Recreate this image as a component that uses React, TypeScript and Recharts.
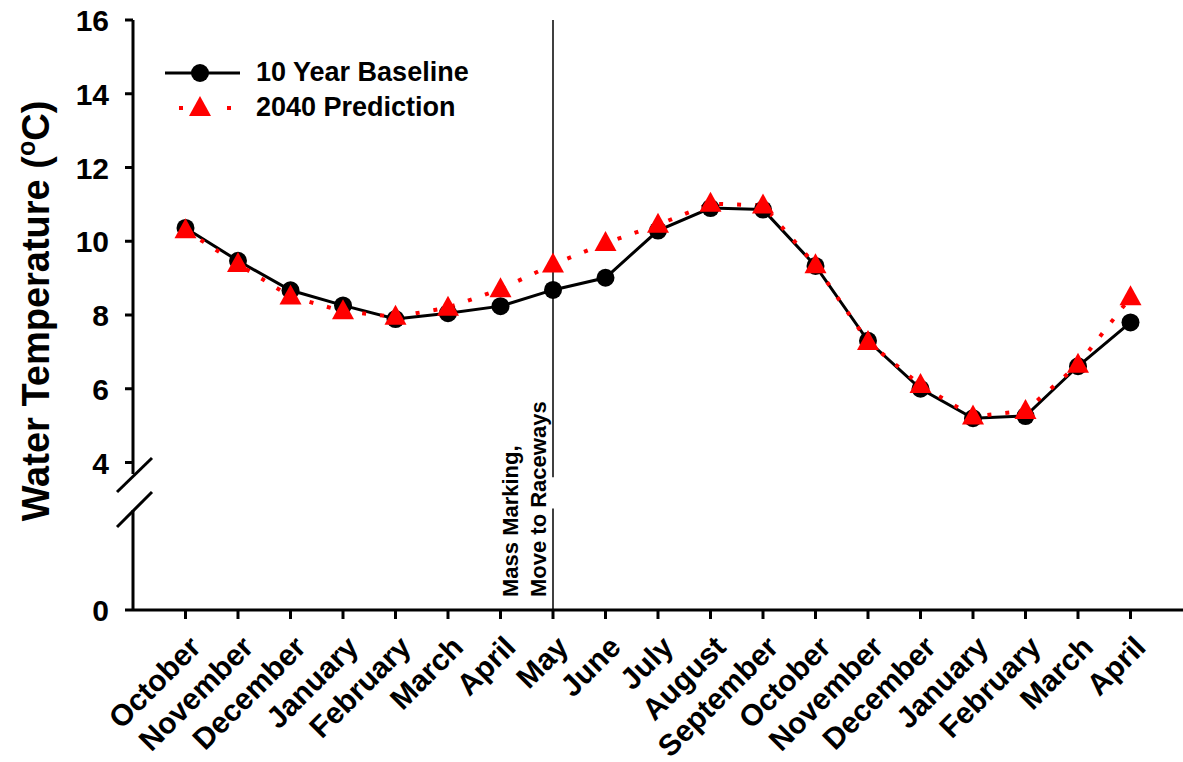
import React from 'react';
import { LineChart, Line, XAxis, YAxis, ReferenceLine, Legend } from 'recharts';

const months = [
    'October', 'November', 'December', 'January', 'February', 'March', 'April',
    'May', 'June', 'July', 'August', 'September', 'October', 'November',
    'December', 'January', 'February', 'March', 'April',
];

// 10 year baseline (black circles)
const baseline = [10.36, 9.47, 8.67, 8.26, 7.89, 8.05, 8.24, 8.68, 9.01, 10.29, 10.9, 10.86, 9.33, 7.3, 6.0, 5.2, 5.26, 6.61, 7.8];

// 2040 prediction (red triangles)
const prediction = [10.3, 9.38, 8.5, 8.1, 7.95, 8.2, 8.7, 9.37, 9.95, 10.45, 11.02, 10.97, 9.35, 7.27, 6.1, 5.25, 5.4, 6.65, 8.48];

const yTicks = [0, 4, 6, 8, 10, 12, 14, 16];
const xTicks = months.map((_, i) => i + 1);

const data = months.map((m, i) => ({
    x: i + 1,
    month: m,
    baseline: baseline[i],
    prediction: prediction[i],
}));

const FONT = '"Liberation Sans", Arial, Helvetica, sans-serif';
const RED = '#ff0000';

const Triangle = (props: any) => {
    const { cx, cy } = props;
    if (cx == null || cy == null) return null;
    return <polygon points={`${cx},${cy - 12} ${cx - 11},${cy + 8} ${cx + 11},${cy + 8}`} fill={RED} />;
};

const MonthTick = ({ x, y, payload }: any) => (
    <text
        transform={`translate(${x + 17},${y + 28}) rotate(-45)`}
        textAnchor="end"
        fontFamily={FONT}
        fontWeight="bold"
        fontSize={30}
        fill="#000"
    >
        {months[payload.value - 1]}
    </text>
);

const ValueTick = ({ x, y, payload }: any) => (
    <text x={x} y={y} dy={11} textAnchor="end" fontFamily={FONT} fontWeight="bold" fontSize={30} fill="#000">
        {payload.value}
    </text>
);

const LegendContent = () => (
    <div style={{ fontFamily: FONT, fontWeight: 'bold', fontSize: 27, color: '#000', textAlign: 'left' }}>
        <div style={{ display: 'flex', alignItems: 'center', height: 35 }}>
            <svg width={93} height={30}>
                <line x1={2} y1={15} x2={77} y2={15} stroke="#000" strokeWidth={3} />
                <circle cx={37} cy={15} r={9} fill="#000" />
            </svg>
            <span>10 Year Baseline</span>
        </div>
        <div style={{ display: 'flex', alignItems: 'center', height: 35 }}>
            <svg width={93} height={30}>
                <rect x={16} y={13} width={4} height={4} fill={RED} />
                <rect x={64} y={13} width={4} height={4} fill={RED} />
                <polygon points="37,3 26,23 48,23" fill={RED} />
            </svg>
            <span>2040 Prediction</span>
        </div>
    </div>
);

export default function App() {
    return (
        <div style={{ position: 'relative', width: 1183, height: 762, background: '#fff' }}>
            <style>{'body{margin:0;}'}</style>
            <LineChart width={1183} height={762} data={data} margin={{ top: 20, right: 0, left: 0, bottom: 0 }}>
                <XAxis
                    dataKey="x"
                    type="number"
                    domain={[0, 20]}
                    ticks={xTicks}
                    interval={0}
                    tick={<MonthTick />}
                    tickSize={9}
                    tickMargin={2}
                    stroke="#000"
                    strokeWidth={3}
                    height={152}
                />
                <YAxis
                    type="number"
                    domain={[0, 16]}
                    ticks={yTicks}
                    interval={0}
                    tick={<ValueTick />}
                    tickSize={8}
                    tickMargin={16}
                    stroke="#000"
                    strokeWidth={3}
                    width={133}
                />
                <ReferenceLine segment={[{ x: 8, y: 0 }, { x: 8, y: 2.75 }]} stroke="#000" strokeWidth={1.5} />
                <ReferenceLine segment={[{ x: 8, y: 3.6 }, { x: 8, y: 16 }]} stroke="#000" strokeWidth={1.5} />
                <Legend
                    verticalAlign="middle"
                    align="center"
                    layout="horizontal"
                    content={<LegendContent />}
                    wrapperStyle={{ left: 163, top: 55, width: 'auto' }}
                />
                <Line
                    dataKey="baseline"
                    name="10 Year Baseline"
                    stroke="#000"
                    strokeWidth={3}
                    dot={{ r: 9, fill: '#000', stroke: 'none' }}
                    isAnimationActive={false}
                />
                <Line
                    dataKey="prediction"
                    name="2040 Prediction"
                    stroke={RED}
                    strokeWidth={4}
                    strokeDasharray="4 14"
                    dot={<Triangle />}
                    isAnimationActive={false}
                />
            </LineChart>
            <svg width={1183} height={762} style={{ position: 'absolute', left: 0, top: 0, pointerEvents: 'none' }}>
                {/* axis break */}
                <rect x={126} y={474} width={14} height={36} fill="#fff" />
                <line x1={117} y1={492} x2={152} y2={458} stroke="#000" strokeWidth={3} />
                <line x1={117} y1={527} x2={152} y2={492} stroke="#000" strokeWidth={3} />
                <text
                    transform="translate(49,311) rotate(-90)"
                    textAnchor="middle"
                    fontFamily={FONT}
                    fontWeight="bold"
                    fontSize={38}
                    fill="#000"
                >
                    Water Temperature (<tspan dy={-14} fontSize={25}>o</tspan><tspan dy={14}>C)</tspan>
                </text>
                <text transform="translate(518,597) rotate(-90)" fontFamily={FONT} fontWeight="bold" fontSize={22} fill="#000">
                    Mass Marking,
                </text>
                <text transform="translate(546,597) rotate(-90)" fontFamily={FONT} fontWeight="bold" fontSize={22} fill="#000">
                    Move to Raceways
                </text>
            </svg>
        </div>
    );
}
